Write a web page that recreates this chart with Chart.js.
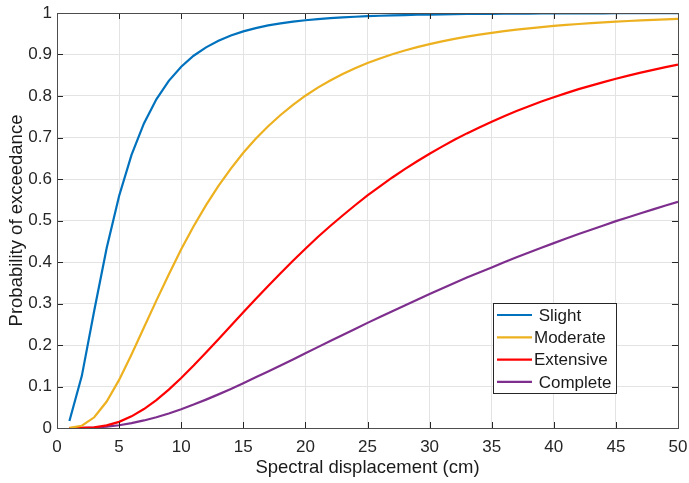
<!DOCTYPE html>
<html>
<head>
<meta charset="utf-8">
<script src="https://cdn.jsdelivr.net/npm/chart.js@4/dist/chart.umd.min.js"></script>
<style>
  html, body { margin: 0; padding: 0; background: #ffffff; }
  #wrap { width: 689px; height: 483px; position: relative; }
</style>
</head>
<body>
<div id="wrap"><canvas id="c" width="689" height="483"></canvas></div>
<script>
// ---- data ----
const displacement = [1,2,3,4,5,6,7,8,9,10,11,12,13,14,15,16,17,18,19,20,21,22,23,24,25,26,27,28,29,30,31,32,33,34,35,36,37,38,39,40,41,42,43,44,45,46,47,48,49,50];
const slight = [0.0167,0.1257,0.2833,0.4337,0.5590,0.6580,0.7340,0.7920,0.8365,0.8707,0.8970,0.9173,0.9332,0.9458,0.9556,0.9636,0.9700,0.9750,0.9790,0.9826,0.9853,0.9876,0.9894,0.9910,0.9923,0.9934,0.9944,0.9951,0.9958,0.9963,0.9968,0.9972,0.9976,0.9979,0.9981,0.9984,0.9986,0.9987,0.9989,0.9990,0.9991,0.9992,0.9993,0.9993,0.9994,0.9994,0.9995,0.9995,0.9996,0.9996];
const moderate = [0.0002,0.0055,0.0258,0.0638,0.1159,0.1772,0.2420,0.3070,0.3700,0.4305,0.4860,0.5370,0.5832,0.6251,0.6631,0.6971,0.7272,0.7543,0.7788,0.8007,0.8202,0.8374,0.8530,0.8670,0.8794,0.8905,0.9006,0.9096,0.9177,0.9250,0.9316,0.9376,0.9430,0.9478,0.9522,0.9563,0.9599,0.9631,0.9660,0.9688,0.9713,0.9735,0.9755,0.9774,0.9792,0.9807,0.9821,0.9835,0.9847,0.9858];
const extensive = [0.0000,0.0002,0.0018,0.0063,0.0148,0.0281,0.0457,0.0673,0.0926,0.1206,0.1504,0.1817,0.2139,0.2463,0.2787,0.3110,0.3424,0.3730,0.4028,0.4321,0.4602,0.4868,0.5120,0.5367,0.5604,0.5824,0.6037,0.6236,0.6428,0.6609,0.6780,0.6946,0.7099,0.7241,0.7379,0.7514,0.7636,0.7755,0.7867,0.7970,0.8070,0.8165,0.8251,0.8335,0.8416,0.8492,0.8563,0.8630,0.8695,0.8756];
const complete = [0.0000,0.0002,0.0012,0.0032,0.0067,0.0117,0.0182,0.0260,0.0351,0.0453,0.0564,0.0684,0.0810,0.0942,0.1079,0.1220,0.1361,0.1506,0.1653,0.1800,0.1949,0.2095,0.2240,0.2388,0.2533,0.2673,0.2816,0.2953,0.3092,0.3228,0.3361,0.3494,0.3624,0.3745,0.3870,0.3994,0.4114,0.4230,0.4345,0.4455,0.4566,0.4673,0.4777,0.4880,0.4984,0.5080,0.5175,0.5267,0.5363,0.5450];
const seriesLabels = [' Slight', 'Moderate', 'Extensive', ' Complete'];
const seriesColors = ['#0072BD', '#EDB120', '#FF0000', '#7E2F8E'];
const xTickValues = [0,5,10,15,20,25,30,35,40,45,50];
const yTickValues = [0,0.1,0.2,0.3,0.4,0.5,0.6,0.7,0.8,0.9,1];

const FONT = "'Liberation Sans', Arial, Helvetica, sans-serif";
const INK = '#262626';

const allSeries = [slight, moderate, extensive, complete];
const datasets = allSeries.map((vals, i) => ({
  label: seriesLabels[i],
  data: vals.map((v, j) => ({ x: displacement[j], y: v })),
  borderColor: seriesColors[i],
  backgroundColor: seriesColors[i],
  borderWidth: 2.2,
  pointRadius: 0,
  tension: 0,
  fill: false
}));

// frame + inward ticks (MATLAB box style)
const framePlugin = {
  id: 'frame',
  afterDatasetsDraw(chart) {
    const { ctx, chartArea: a, scales } = chart;
    ctx.save();
    ctx.strokeStyle = INK;
    ctx.lineWidth = 1;
    const L = 6;
    ctx.beginPath();
    xTickValues.forEach(v => {
      const px = Math.round(scales.x.getPixelForValue(v)) + 0.5;
      ctx.moveTo(px, a.bottom); ctx.lineTo(px, a.bottom - L);
      ctx.moveTo(px, a.top); ctx.lineTo(px, a.top + L);
    });
    yTickValues.forEach(v => {
      const py = Math.round(scales.y.getPixelForValue(v)) + 0.5;
      ctx.moveTo(a.left, py); ctx.lineTo(a.left + L, py);
      ctx.moveTo(a.right, py); ctx.lineTo(a.right - L, py);
    });
    ctx.stroke();
    ctx.strokeStyle = '#4d4d4d';
    ctx.strokeRect(Math.round(a.left) + 0.5, Math.round(a.top) + 0.5,
                   Math.round(a.right - a.left), Math.round(a.bottom - a.top));
    ctx.restore();
  }
};

// legend drawn inside the plot area (south-east)
const insideLegend = {
  id: 'insideLegend',
  afterDraw(chart) {
    const { ctx, chartArea: a } = chart;
    const boxW = 123, boxH = 90;
    const x0 = a.right - 62 - boxW, y0 = a.bottom - 35 - boxH;
    ctx.save();
    ctx.fillStyle = '#ffffff';
    ctx.fillRect(x0, y0, boxW, boxH);
    ctx.strokeStyle = '#262626';
    ctx.lineWidth = 1;
    ctx.strokeRect(Math.round(x0) + 0.5, Math.round(y0) + 0.5, boxW, boxH);
    ctx.font = '17px ' + FONT;
    ctx.textBaseline = 'middle';
    ctx.textAlign = 'left';
    chart.data.datasets.forEach((ds, i) => {
      const cy = y0 + 12 + i * 22.3;
      ctx.strokeStyle = ds.borderColor;
      ctx.lineWidth = 2.2;
      ctx.beginPath();
      ctx.moveTo(x0 + 4, cy);
      ctx.lineTo(x0 + 39, cy);
      ctx.stroke();
      ctx.fillStyle = '#1a1a1a';
      ctx.fillText(ds.label, x0 + 41, cy + 1);
    });
    ctx.restore();
  }
};

new Chart(document.getElementById('c'), {
  type: 'line',
  data: { datasets },
  plugins: [framePlugin, insideLegend],
  options: {
    responsive: false,
    animation: false,
    devicePixelRatio: 1,
    layout: { padding: { left: 0, right: 11, top: 13, bottom: 0 } },
    plugins: { legend: { display: false }, tooltip: { enabled: false } },
    scales: {
      x: {
        type: 'linear',
        min: 0, max: 50,
        afterFit: s => { s.height = 55; s.paddingLeft = 0; s.paddingRight = 0; },
        afterBuildTicks: s => { s.ticks = xTickValues.map(v => ({ value: v })); },
        ticks: { color: INK, font: { family: FONT, size: 17 }, padding: 9, maxRotation: 0,
                 callback: v => String(v) },
        grid: { color: '#e3e3e3', drawTicks: false },
        border: { display: false },
        title: { display: true, text: 'Spectral displacement (cm)', color: '#1a1a1a',
                 font: { family: FONT, size: 18.5 }, padding: { top: 2, bottom: 4 } }
      },
      y: {
        type: 'linear',
        min: 0, max: 1,
        afterFit: s => { s.width = 57; s.paddingTop = 0; s.paddingBottom = 0; },
        afterBuildTicks: s => { s.ticks = yTickValues.map(v => ({ value: v })); },
        ticks: { color: INK, font: { family: FONT, size: 17 }, padding: 5,
                 callback: v => String(+Number(v).toFixed(1)) },
        grid: { color: '#e3e3e3', drawTicks: false },
        border: { display: false },
        title: { display: true, text: 'Probability of exceedance', color: '#1a1a1a',
                 font: { family: FONT, size: 18.5 }, padding: { top: 5.5, bottom: 2 } }
      }
    }
  }
});
</script>
</body>
</html>
